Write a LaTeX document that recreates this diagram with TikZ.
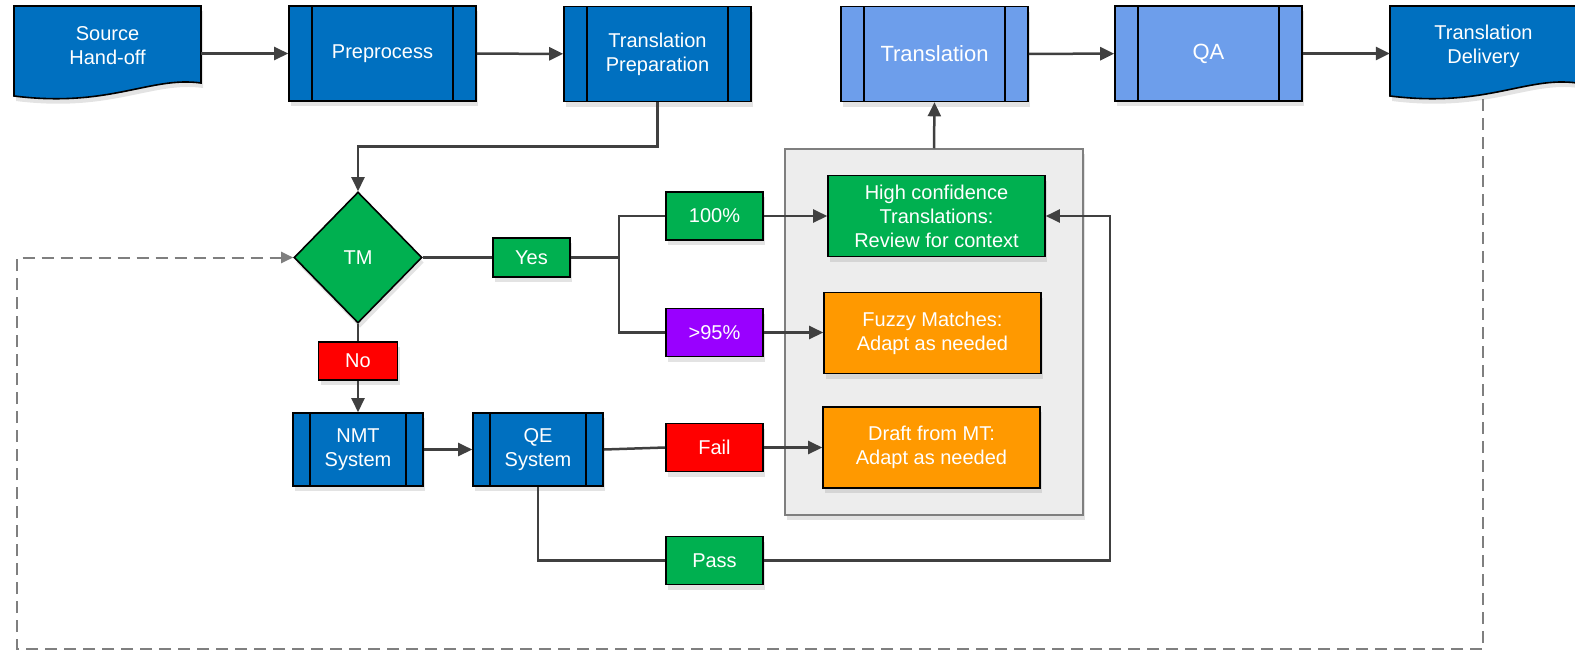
\documentclass[tikz,border=0pt]{standalone}
\usepackage{fontspec}
\setmainfont{Liberation Sans}
\usetikzlibrary{arrows.meta,shapes.geometric,shadows}

\definecolor{darkblue}{HTML}{0070C0}
\definecolor{lightblue}{HTML}{6D9EEB}
\definecolor{okgreen}{HTML}{00B050}
\definecolor{failred}{HTML}{FF0000}
\definecolor{fuzzpurple}{HTML}{9900FF}
\definecolor{adaptorange}{HTML}{FF9900}
\definecolor{poolgray}{HTML}{EDEDED}
\definecolor{poolline}{HTML}{7F7F7F}
\definecolor{wiregray}{HTML}{404040}

\tikzset{
    barwidth/.store in=\barw, barwidth=23pt,
    softshadow/.style={drop shadow={shadow xshift=2pt, shadow yshift=-5pt, opacity=0.22}},
    boxbase/.style={rectangle, draw=black, line width=1.6pt, text=white, align=center,
        inner sep=0pt, softshadow, font=\fontsize{20}{24}\selectfont},
    procbox/.style={boxbase, fill=#1, minimum width=187pt, minimum height=95pt,
        path picture={
            \draw[line width=1.6pt] ([xshift=\barw]path picture bounding box.north west)
                -- ([xshift=\barw]path picture bounding box.south west);
            \draw[line width=1.6pt] ([xshift=-\barw]path picture bounding box.north east)
                -- ([xshift=-\barw]path picture bounding box.south east);
        }},
    tag/.style={boxbase, fill=#1, minimum width=97pt, minimum height=48pt},
    result/.style={boxbase, fill=#1, minimum width=217pt, minimum height=81pt},
    decision/.style={diamond, draw=black, line width=1.6pt, fill=okgreen, text=white,
        inner sep=0pt, minimum width=128pt, minimum height=131pt, softshadow,
        font=\fontsize{20}{24}\selectfont},
    docshape/.style={draw=black, line width=1.6pt, fill=darkblue, softshadow},
    doctext/.style={rectangle, text=white, align=center, minimum width=187pt,
        minimum height=80pt, font=\fontsize{20}{24}\selectfont},
    pool/.style={rectangle, draw=poolline, line width=1.5pt, fill=poolgray,
        minimum width=298pt, minimum height=366pt, softshadow},
    link/.style={draw=wiregray, line width=2.5pt},
    arr/.style={link, -{Triangle[length=14pt,width=13pt]}},
    feedback/.style={draw=poolline, line width=2pt, dash pattern=on 12pt off 7pt,
        -{Triangle[length=12pt,width=11pt]}},
}

\begin{document}
\begin{tikzpicture}[x=1pt, y=-1pt]
    \useasboundingbox (0,0) rectangle (1575,651);

    % top row
    \draw[docshape] (14,6) -- (201,6) -- (201,83) .. controls (150,76) and (110,108) .. (14,96) -- cycle;
    \node[doctext] (src) at (107.5,46) {Source\\Hand-off};

    \node[procbox=darkblue] (pre) at (382.5,53.5) {Preprocess};
    \node[procbox=darkblue] (prep) at (657.5,54) {Translation\\Preparation};
    \node[procbox=lightblue, font=\fontsize{22}{26}\selectfont] (trans) at (934.5,54) {Translation};
    \node[procbox=lightblue, font=\fontsize{22}{26}\selectfont] (qa) at (1208.5,53.5) {QA};

    \draw[docshape] (1390,6) -- (1577,6) -- (1577,83) .. controls (1526,76) and (1486,108) .. (1390,96) -- cycle;
    \node[doctext] (dlv) at (1483.5,46) {Translation\\Delivery};

    % review pool
    \node[pool] (pool) at (934,332) {};
    \node[result=okgreen] (hc) at (936.5,216) {High confidence\\Translations:\\Review for context};
    \node[result=adaptorange] (fuzzy) at (932.5,333) {Fuzzy Matches:\\Adapt as needed};
    \node[result=adaptorange] (draft) at (931.5,447.5) {Draft from MT:\\Adapt as needed};

    % TM branch
    \node[decision] (tm) at (358,257.5) {TM};
    \node[tag=okgreen, minimum width=77pt, minimum height=39pt] (yes) at (531.5,257.5) {Yes};
    \node[tag=okgreen] (p100) at (714.5,216) {100\%};
    \node[tag=fuzzpurple] (p95) at (714.5,332.5) {>95\%};
    \node[tag=failred, minimum width=79pt, minimum height=38pt] (no) at (358,361) {No};

    % MT branch
    \node[procbox=darkblue, barwidth=17pt, minimum width=130pt, minimum height=73pt] (nmt) at (358,449.5) {NMT\\System};
    \node[procbox=darkblue, barwidth=17pt, minimum width=130pt, minimum height=73pt] (qe) at (538,449.5) {QE\\System};
    \node[tag=failred] (fail) at (714.5,447.5) {Fail};
    \node[tag=okgreen] (pass) at (714.5,560.5) {Pass};

    % connectors
    \draw[arr] (src.east |- pre) -- (pre);
    \draw[arr] (pre) -- (prep);
    \draw[arr] (trans) -- (qa);
    \draw[arr] (qa) -- (dlv.west |- qa);
    \draw[arr] (prep.south) -- ++(0,44) -| (tm.north);
    \draw[arr] (pool.north) -- (trans.south);

    \draw[link] (tm.east) -- (yes.west);
    \draw[link] (yes.east) -- ++(48,0) coordinate (fork);
    \draw[link] (p100.west) -| (fork) |- (p95.west);
    \draw[arr] (p100) -- (hc);
    \draw[arr] (p95) -- (fuzzy.west |- p95);

    \draw[link] (tm.south) -- (no.north);
    \draw[arr] (no.south) -- (nmt.north);
    \draw[arr] (nmt) -- (qe);
    \draw[link] (qe.east) -- (fail.west);
    \draw[arr] (fail) -- (draft.west |- fail);
    \draw[link] (qe.south) |- (pass.west);
    \draw[arr] (pass.east) -- ++(346,0) |- (hc.east);

    % feedback loop
    \coordinate (fb) at (1483,99);
    \coordinate (fbl) at (17,649);
    \draw[feedback] (fb) |- (fbl) |- (tm.west);
\end{tikzpicture}
\end{document}
